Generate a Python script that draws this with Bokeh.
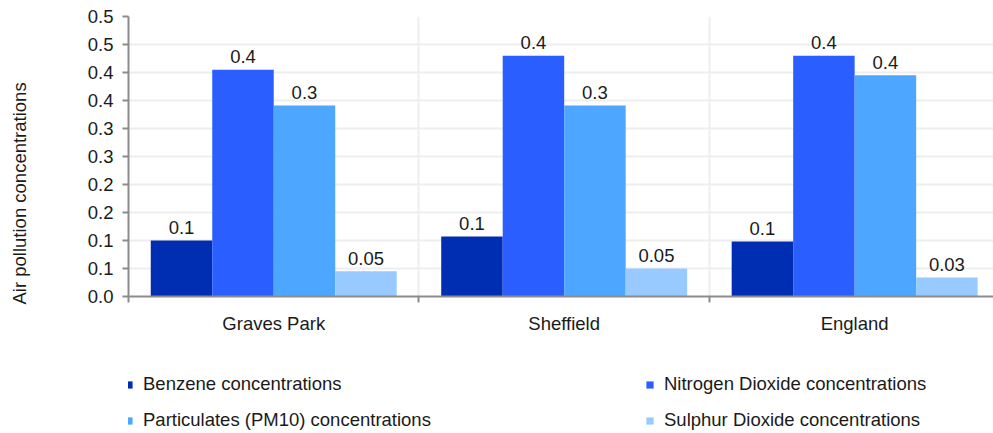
import math
from bokeh.plotting import figure
from bokeh.layouts import column
from bokeh.models import (Range1d, FixedTicker, LinearAxis, Legend, LegendItem,
                          ColumnDataSource, Title)
from bokeh.transform import dodge
from bokeh.core.properties import value
from bokeh.embed import file_html
from bokeh.resources import INLINE

# ---------------- data ----------------
locations = ["Graves Park", "Sheffield", "England"]
series_names = ["Benzene concentrations", "Nitrogen Dioxide concentrations",
                "Particulates (PM10) concentrations", "Sulphur Dioxide concentrations"]
benzene = [0.100, 0.107, 0.098]
nitrogen_dioxide = [0.405, 0.430, 0.430]
particulates_pm10 = [0.341, 0.341, 0.395]
sulphur_dioxide = [0.045, 0.050, 0.034]
benzene_labels = ["0.1", "0.1", "0.1"]
nitrogen_dioxide_labels = ["0.4", "0.4", "0.4"]
particulates_pm10_labels = ["0.3", "0.3", "0.4"]
sulphur_dioxide_labels = ["0.05", "0.05", "0.03"]
y_ticks = [0.0, 0.05, 0.1, 0.15, 0.2, 0.25, 0.3, 0.35, 0.4, 0.45, 0.5]
y_tick_labels = ["0.0", "0.1", "0.1", "0.2", "0.2", "0.3", "0.3", "0.4", "0.4", "0.5", "0.5"]
y_title = "Air pollution concentrations"

colors = ["#002EB3", "#2B5EFF", "#4DA6FF", "#99CAFF"]
FONT = "Liberation Sans"
FS = "18.5px"
TXT = "#1a1a1a"
AXC = "#8C8C8C"
GRC = "#EEEEEE"

centers = [i + 0.5 for i in range(len(locations))]
boundaries = [i for i in range(len(locations) + 1)]

src = ColumnDataSource(dict(
    x=centers, loc=locations,
    benzene=benzene, nitrogen_dioxide=nitrogen_dioxide,
    particulates_pm10=particulates_pm10, sulphur_dioxide=sulphur_dioxide,
    benzene_labels=benzene_labels, nitrogen_dioxide_labels=nitrogen_dioxide_labels,
    particulates_pm10_labels=particulates_pm10_labels,
    sulphur_dioxide_labels=sulphur_dioxide_labels,
))

p = figure(width=993, height=336, x_range=Range1d(0, 2.978), y_range=Range1d(0, 0.5),
           output_backend="svg", toolbar_location=None,
           min_border_left=128, min_border_right=0, min_border_top=16, min_border_bottom=0)
p.outline_line_color = None

# grids
p.ygrid.ticker = FixedTicker(ticks=y_ticks)
p.ygrid.grid_line_color = GRC
p.ygrid.grid_line_width = 2
p.xgrid.ticker = FixedTicker(ticks=boundaries[1:-1])
p.xgrid.grid_line_color = GRC
p.xgrid.grid_line_width = 2

# y axis
ya = p.yaxis[0]
ya.ticker = FixedTicker(ticks=y_ticks)
ya.major_label_overrides = {t: l for t, l in zip(y_ticks, y_tick_labels)}
ya.minor_tick_line_color = None
ya.major_tick_in = 0
ya.major_tick_out = 6
ya.major_tick_line_color = AXC
ya.major_tick_line_width = 2
ya.axis_line_color = AXC
ya.axis_line_width = 2
ya.major_label_standoff = 9
ya.major_label_text_font = FONT
ya.major_label_text_font_size = FS
ya.major_label_text_color = TXT

# spacer between the axis and the y title, then the y title itself
p.add_layout(Title(text=" ", standoff=52, text_font_size="1px"), "left")
p.add_layout(Title(text=y_title, align="left", offset=-8, standoff=0,
                   text_font=FONT, text_font_size=FS, text_font_style="normal",
                   text_color=TXT), "left")

# x axis: boundary ticks only
xa = p.xaxis[0]
xa.ticker = FixedTicker(ticks=boundaries)
xa.major_label_overrides = {b: " " for b in boundaries}
xa.major_label_text_font_size = "1px"
xa.minor_tick_line_color = None
xa.major_tick_in = 0
xa.major_tick_out = 6
xa.major_tick_line_color = AXC
xa.major_tick_line_width = 2
xa.axis_line_color = AXC
xa.axis_line_width = 2
xa.major_label_standoff = 0

# x axis: category labels
xa2 = LinearAxis(ticker=FixedTicker(ticks=centers),
                 major_label_overrides={c: l for c, l in zip(centers, locations)})
xa2.axis_line_color = None
xa2.major_tick_line_color = None
xa2.minor_tick_line_color = None
xa2.major_label_standoff = 0
xa2.major_label_text_font = FONT
xa2.major_label_text_font_size = FS
xa2.major_label_text_color = TXT
p.add_layout(xa2, "below")

# bars
bw = 0.2117
cols = ["benzene", "nitrogen_dioxide", "particulates_pm10", "sulphur_dioxide"]
for k, (c, col) in enumerate(zip(cols, colors)):
    off = (k - 1.5) * bw
    p.vbar(x=dodge("x", off, range=p.x_range), top=c, width=bw, source=src,
           fill_color=col, line_color=None)
    p.text(x=dodge("x", off, range=p.x_range), y=c, text=c + "_labels", source=src,
           text_align="center", text_baseline="alphabetic", y_offset=-13,
           text_font=value(FONT), text_font_size=value(FS), text_color=TXT)

# ---------------- legend figure ----------------
# The same bars are referenced here only so the legend has swatches; both ranges
# lie beyond the data, so nothing shows in this strip except the legend.
q = figure(width=993, height=97, x_range=Range1d(10, 11), y_range=Range1d(10, 11),
           output_backend="svg", toolbar_location=None,
           x_axis_location=None, y_axis_location=None,
           min_border=0)
q.outline_line_color = None
q.grid.visible = False
leg_r = [q.vbar(x="x", top=c, width=bw, source=src, fill_color=col, line_color=None)
         for c, col in zip(cols, colors)]

def make_legend(idx, loc):
    return Legend(items=[LegendItem(label=series_names[i], renderers=[leg_r[i]]) for i in idx],
                  orientation="horizontal", location=loc,
                  glyph_width=9, glyph_height=9, label_standoff=10,
                  label_width=300, spacing=202, padding=0, margin=0,
                  border_line_color=None, background_fill_alpha=0,
                  label_text_font=FONT, label_text_font_size=FS, label_text_color=TXT)

q.add_layout(make_legend([0, 1], (-4, 38)))
q.add_layout(make_legend([2, 3], (-4, 2)))

open("out.html", "w").write(file_html(column(p, q), INLINE))
